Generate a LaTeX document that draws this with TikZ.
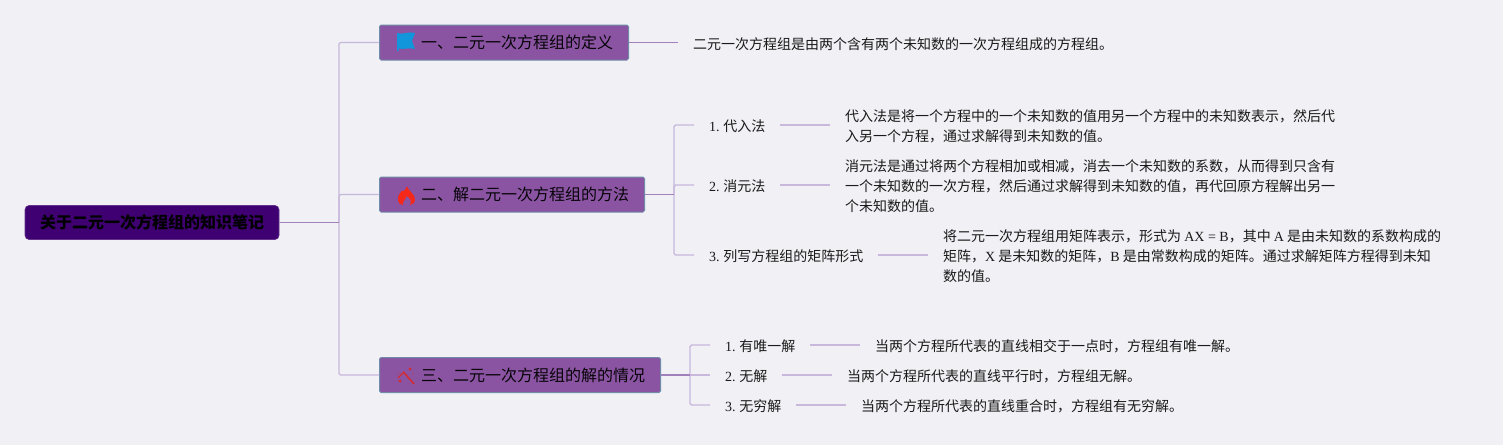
\documentclass[tikz,border=0pt]{standalone}
\usepackage{fontspec}
\setmainfont{Noto Sans CJK SC}
\newfontfamily\latf{Liberation Serif}
\newcommand{\lat}[1]{{\latf #1}}
\newcommand{\num}[1]{{\latf #1\kern3.6pt}}
\definecolor{bgc}{HTML}{F0F0F5}
\definecolor{rootc}{HTML}{3F0071}
\definecolor{branchc}{HTML}{8A54A2}
\definecolor{branchb}{HTML}{6F8CA8}
\definecolor{mainl}{HTML}{A081BC}
\definecolor{subl}{HTML}{C8B8DB}
\definecolor{inkc}{HTML}{1A1A1A}
\definecolor{flagc}{HTML}{1296DB}
\definecolor{flamec}{HTML}{F5291A}
\definecolor{wandc}{HTML}{D42A32}
\tikzset{
  rootbox/.style={draw=rootc!80!white,fill=rootc,rounded corners=4pt,line width=.6pt,inner sep=0pt,minimum width=254pt,minimum height=34pt,font=\fontsize{16}{20}\selectfont\bfseries,text=black},
  branchbox/.style={draw=branchb,fill=branchc,rounded corners=1.5pt,line width=1pt,inner sep=0pt,minimum height=35pt,font=\fontsize{16}{20}\selectfont,text=black!95!branchc,anchor=west},
  itembox/.style={font=\fontsize{14}{20}\selectfont,text=inkc,inner xsep=15pt,inner ysep=0pt,anchor=west,align=left},
  mainline/.style={draw=mainl,line width=1.1pt},
  subline/.style={draw=subl,line width=1.4pt,rounded corners=1.5pt}
}
\begin{document}
\begin{tikzpicture}[x=1pt,y=-1pt]
\useasboundingbox (0,0) rectangle (1503,445);
\fill[bgc] (0,0) rectangle (1503,445);
% nodes
\node[rootbox] (root) at (152,222.5) {关于二元一次方程组的知识笔记};
\node[branchbox,minimum width=249pt] (b1) at (379,42.5) {\hspace*{41.5pt}一、二元一次方程组的定义\hspace*{15.5pt}};
\node[branchbox,minimum width=265pt] (b2) at (379,194.5) {\hspace*{41.5pt}二、解二元一次方程组的方法\hspace*{15.5pt}};
\node[branchbox,minimum width=281pt] (b3) at (379,375) {\hspace*{41.5pt}三、二元一次方程组的解的情况\hspace*{15.5pt}};
\coordinate (trunk) at (339,222.5);
\coordinate (j2) at (674,194.5);
\coordinate (j3) at (690,375);
% level 1 description
\node[itembox] (d1) at (678,44) {二元一次方程组是由两个含有两个未知数的一次方程组成的方程组。};
% method items
\node[itembox] (m1) at (694,126) {\num{1.}代入法};
\node[itembox] (m2) at (694,186) {\num{2.}消元法};
\node[itembox] (m3) at (694,256) {\num{3.}列写方程组的矩阵形式};
\coordinate (m1e) at (780,125);
\coordinate (m2e) at (780,185);
\coordinate (m3e) at (878,255);
\node[itembox] (md1) at (830,126) {代入法是将一个方程中的一个未知数的值用另一个方程中的未知数表示，然后代\\入另一个方程，通过求解得到未知数的值。};
\node[itembox] (md2) at (830,186) {消元法是通过将两个方程相加或相减，消去一个未知数的系数，从而得到只含有\\一个未知数的一次方程，然后通过求解得到未知数的值，再代回原方程解出另一\\个未知数的值。};
\node[itembox] (md3) at (928,256) {将二元一次方程组用矩阵表示，形式为 \lat{AX = B}，其中 \lat{A} 是由未知数的系数构成的\\矩阵，\lat{X} 是未知数的矩阵，\lat{B} 是由常数构成的矩阵。通过求解矩阵方程得到未知\\数的值。};
% solution items
\node[itembox] (s1) at (710,346) {\num{1.}有唯一解};
\node[itembox] (s2) at (710,376) {\num{2.}无解};
\node[itembox] (s3) at (710,406) {\num{3.}无穷解};
\coordinate (s1e) at (810,345);
\coordinate (s2e) at (782,375);
\coordinate (s3e) at (796,405);
\node[itembox] (sd1) at (860,346) {当两个方程所代表的直线相交于一点时，方程组有唯一解。};
\node[itembox] (sd2) at (832,376) {当两个方程所代表的直线平行时，方程组无解。};
\node[itembox] (sd3) at (846,406) {当两个方程所代表的直线重合时，方程组有无穷解。};
% connectors
\draw[subline] (trunk) |- (b1.west);
\draw[subline] (trunk) |- (b2.west);
\draw[subline] (trunk) |- (b3.west);
\draw[mainline] (root.east) -- (trunk);
\draw[mainline] (b1.east) -- (b1.east -| d1.west);
\draw[subline] (j2) |- (694,125);
\draw[subline] (j2) |- (694,185);
\draw[subline] (j2) |- (694,255);
\draw[subline] (j3) |- (710,345);
\draw[subline] (j3) -- (710,375);
\draw[subline] (j3) |- (710,405);
\draw[mainline,line width=1.4pt] (b2.east) -- (j2);
\draw[mainline,line width=1.4pt] (b3.east) -- (j3);
\draw[subline] (m1e) -- (m1e -| md1.west);
\draw[subline] (m2e) -- (m2e -| md2.west);
\draw[subline] (m3e) -- (m3e -| md3.west);
\draw[subline] (s1e) -- (s1e -| sd1.west);
\draw[subline] (s2e) -- (s2e -| sd2.west);
\draw[subline] (s3e) -- (s3e -| sd3.west);
% flag icon
\fill[flagc] (397,33) .. controls (403,35) and (409,31) .. (415,33) -- (412,41) -- (415,49) .. controls (409,47) and (404,50) .. (398.5,48.5) -- (398.5,51) -- (397,51) -- cycle;
% flame icon
\fill[flamec] (407,186) .. controls (408,191) and (415,194) .. (415,199) .. controls (415,203) and (412,205) .. (410,205) .. controls (412,201) and (410,198) .. (406.5,196) .. controls (406,200) and (402,201) .. (403,205) .. controls (400,205) and (398,203) .. (398,199) .. controls (398,195) and (400,193) .. (401.5,191) .. controls (403,192) and (406,190) .. (407,186) -- cycle;
% wand icon
\draw[wandc,line width=1.6pt] (403.5,372) -- (414,384);
\draw[wandc,line width=1.3pt] (398,378) -- (404,372);
\fill[wandc] (410,369) circle (1.6pt) (400,381) circle (1.6pt) (398,373) circle (.7pt) (413,374) circle (.7pt);
\end{tikzpicture}
\end{document}
